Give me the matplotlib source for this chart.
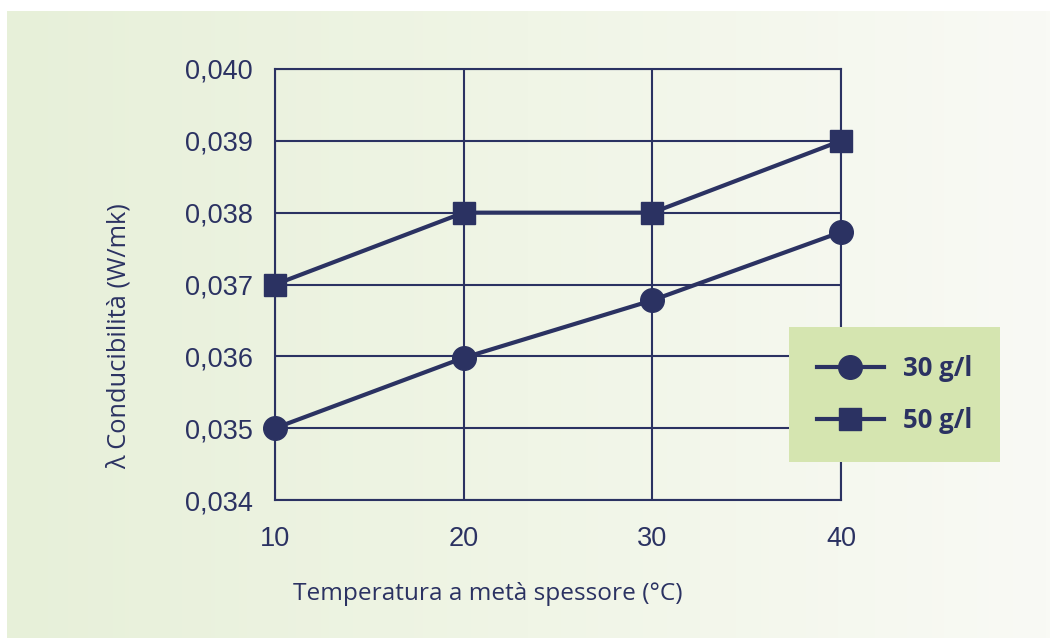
import numpy as np
import matplotlib
matplotlib.use('Agg')
import matplotlib.pyplot as plt
from matplotlib.colors import LinearSegmentedColormap

# dati
temperature = [10, 20, 30, 40]
cond_30 = [0.0350, 0.03598, 0.03678, 0.03773]
cond_50 = [0.0370, 0.0380, 0.0380, 0.0390]
y_ticks = [0.034, 0.035, 0.036, 0.037, 0.038, 0.039, 0.040]
y_labels = ['0,034', '0,035', '0,036', '0,037', '0,038', '0,039', '0,040']
serie_labels = ['30 g/l', '50 g/l']

navy = '#2b3262'
W, H = 1050, 638

fig = plt.figure(figsize=(W / 100, H / 100), dpi=100)
fig.patch.set_facecolor('white')

# sfondo sfumato verde -> bianco
bg = fig.add_axes([7 / W, 0, 1 - 7 / W, 1 - 11 / H], zorder=-10)
cmap = LinearSegmentedColormap.from_list('bg', ['#e7f0d9', '#f0f5e6', '#f9faf5'])
bg.imshow(np.linspace(0, 1, 256).reshape(1, -1), aspect='auto', cmap=cmap,
          extent=[0, 1, 0, 1])
bg.axis('off')

ax = fig.add_axes([275 / W, 1 - 500 / H, 566 / W, 431 / H])
ax.set_facecolor('none')

ax.plot(temperature, cond_30, color=navy, lw=3, marker='o', ms=17,
        label=serie_labels[0], zorder=5, clip_on=False)
ax.plot(temperature, cond_50, color=navy, lw=3, marker='s', ms=16.5,
        label=serie_labels[1], zorder=5, clip_on=False)

ax.set_xlim(10, 40)
ax.set_ylim(0.034, 0.040)
ax.set_xticks(temperature)
ax.set_yticks(y_ticks)
ax.set_yticklabels(y_labels)
ax.grid(True, color=navy, lw=1.5)
for s in ax.spines.values():
    s.set_color(navy)
    s.set_linewidth(1.5)
ax.tick_params(length=0, colors=navy, labelsize=19.5)
ax.tick_params(axis='y', pad=16)
ax.tick_params(axis='x', pad=19)
for lab in ax.get_xticklabels() + ax.get_yticklabels():
    lab.set_family(['Liberation Sans', 'DejaVu Sans'])

fig.text(488 / W, 1 - 594 / H, 'Temperatura a metà spessore (°C)',
         ha='center', va='center', fontsize=17.6, color=navy,
         family=['Open Sans', 'DejaVu Sans'])
fig.text(119 / W, 1 - 336 / H, 'λ Conducibilità (W/mk)', rotation=90,
         ha='center', va='center', fontsize=18.3, color=navy,
         family=['Open Sans', 'DejaVu Sans'])

leg = ax.legend(loc='upper left', mode='expand',
                bbox_to_anchor=(789 / W, 1 - 460 / H, 211 / W, 133 / H),
                bbox_transform=fig.transFigure, borderaxespad=0,
                prop={'family': 'Open Sans', 'weight': 'bold', 'size': 18.5},
                handlelength=2.6, handletextpad=0.75, labelspacing=1.0,
                borderpad=1.08, fancybox=False, framealpha=1)
leg.get_frame().set_facecolor('#d5e5b0')
leg.get_frame().set_edgecolor('none')
for t in leg.get_texts():
    t.set_color(navy)

fig.savefig('out.png', dpi=100)
